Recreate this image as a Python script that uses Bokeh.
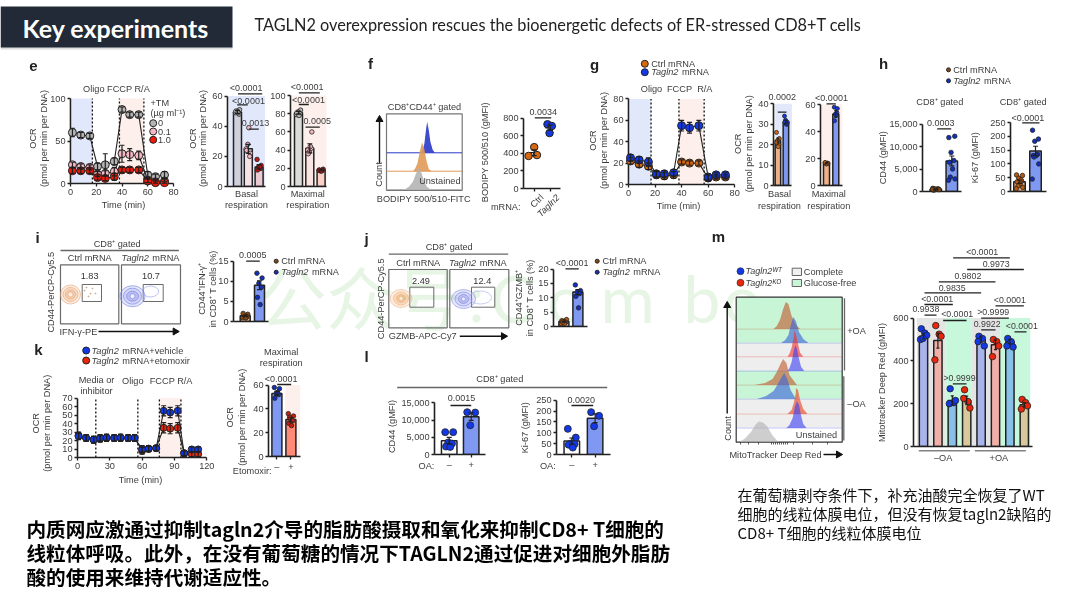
from bokeh.plotting import figure
from bokeh.embed import file_html
from bokeh.resources import INLINE
from bokeh.core.properties import value
from bokeh.models import (Column, Range1d, FixedTicker, ColumnDataSource, Whisker, TeeHead,
                          NumeralTickFormatter)

# ---------- data ----------
time12 = [1.5, 8, 15, 21, 27, 34, 40, 46, 53, 60, 66, 73]
e_ocr_0 = [60, 57, 56, 20, 22, 26, 87, 81, 81, 10, 8, 10]
e_err_0 = [5, 3, 3, 4, 13, 4, 3, 3, 3, 4, 3, 4]
e_ocr_01 = [22, 20, 19, 11, 12, 14, 35, 34, 33, 4, 2, 3]
e_err_01 = [3, 3, 3, 3, 3, 5, 10, 7, 5, 3, 2, 3]
e_ocr_10 = [15, 15, 15, 7, 6, 8, 16, 16, 16, 3, 1, 1]
e_err_10 = [3, 3, 3, 3, 3, 4, 3, 3, 3, 2, 1, 1]
e_basal = [49.5, 25, 13]
e_basal_err = [1, 3, 1.5]
e_basal_pts = [[49, 51, 50, 48, 50, 49], [25, 22, 28, 20, 24, 39], [18, 14, 13, 12, 11, 13]]
e_max = [81, 42, 18]
e_max_err = [1.5, 5, 0.8]
e_max_pts = [[79, 84, 82, 80, 81, 78], [40, 60, 38, 42, 36, 44], [18, 19, 17, 18, 18, 17]]

f_ctrl = [370, 470, 380]
f_tagln2 = [730, 710, 630]

g_ctrl = [22, 19, 17, 9, 8, 9, 21, 20, 20, 6, 7, 7]
g_ctrl_err = [3, 3, 3, 3, 3, 3, 2, 2, 2, 3, 2, 2]
g_tag = [25, 23, 21, 10, 10, 11, 55, 53, 55, 7, 9, 9]
g_tag_err = [3, 3, 4, 3, 3, 3, 5, 5, 5, 3, 2, 2]
g_basal = [22, 31]
g_basal_err = [1.2, 1]
g_basal_pts = [[26, 23, 22, 20, 21, 19], [34, 31, 32, 30, 31, 30]]
g_max = [16.5, 53]
g_max_err = [0.5, 2.5]
g_max_pts = [[17, 16.5, 16, 16.5, 17, 16], [58, 57, 53, 54, 48, 52]]

h_cd44 = [500, 6800]
h_cd44_err = [100, 1100]
h_cd44_pts = [[700, 500, 400, 600, 300, 500, 600, 400, 500],
              [12000, 12300, 8700, 6900, 6500, 5000, 3200, 2800, 2500]]
h_ki67 = [35, 147]
h_ki67_err = [6, 17]
h_ki67_pts = [[60, 58, 48, 38, 35, 28, 20, 15, 10, 42],
              [222, 190, 182, 135, 130, 130, 125, 100, 45]]

i_val = [1.4, 9]
i_err = [0.2, 1.1]
i_pts = [[1.0, 1.8, 1.5, 1.2, 2.0, 0.9], [12, 10.8, 9.5, 8.5, 6, 4.2]]

j_val = [1.7, 12]
j_err = [0.2, 0.9]
j_pts = [[1.0, 2.4, 1.8, 1.5, 2.0, 1.1, 1.6], [14.5, 12.5, 12, 11.5, 10.5, 6.5]]

time18 = [1, 8, 15, 21, 27, 34, 40, 47, 53, 60, 66, 73, 80, 86, 93, 99, 106, 112]
k_vehicle = [25, 23, 21, 23, 23.5, 23, 23.5, 23, 23, 10, 10.5, 11, 55, 53, 55, 5, 9.5, 9.5]
k_etomoxir = [26, 23, 21, 22, 23, 23, 23, 23, 23, 8, 10, 11, 35, 34, 35, 5, 4, 4]
k_err = [4, 4, 4, 4, 4, 4, 4, 4, 4, 4, 3, 3, 6, 6, 6, 3, 3, 3]
k_bar = [53, 31]
k_bar_err = [1.7, 2]
k_bar_pts = [[58, 57, 53, 52, 49, 54], [36, 34, 32, 30, 28, 26, 33]]

l_cd44 = [4000, 11000]
l_cd44_err = [1000, 1100]
l_cd44_pts = [[6500, 6500, 3500, 3200, 2300, 2200], [12300, 12200, 8500]]
l_ki67 = [62, 167]
l_ki67_err = [14, 20]
l_ki67_pts = [[118, 78, 50, 48, 45, 32], [195, 178, 130]]

m_val = [515, 495, 215, 215, 500, 475, 490, 195]
m_err = [12, 35, 22, 20, 12, 22, 10, 10]
m_pts = [[550, 530, 520, 500, 505], [565, 525, 515, 405], [270, 205, 215, 200], [265, 210, 180, 225],
         [515, 505, 470, 490], [500, 490, 470, 420], [505, 490, 465, 470], [220, 205, 190, 175]]
m_fill = ["#aab4ec", "#f0b0a8", "#88c0e8", "#d8c89c", "#aab4ec", "#f0b0a8", "#88c0e8", "#d8c89c"]

# histogram curves: fluorescence (0-100 of the box width), count height
f_hist_x = [[45, 48, 50, 52, 53.7, 56, 58, 61, 64], [35, 38, 41, 44, 47, 50, 53, 56, 60], [24, 30, 35, 39, 42.7, 46, 49, 53, 58]]
f_hist_h = [[0, 3, 9, 22, 31, 22, 11, 3, 0], [0, 3, 8, 20, 29, 22, 10, 2, 0], [0, 3, 8, 16, 21.7, 17, 10, 3, 0]]
m_hist = [
    ([35, 38, 41, 44, 46.5, 49, 52, 56, 60], [0, 3, 9, 20, 27, 25, 13, 4, 0], "#c05a30", 0),
    ([42, 46, 49, 51, 53.5, 56, 59, 63, 68], [0, 3, 8, 17, 26, 22, 11, 4, 0], "#3c64d8", 1),
    ([48, 50, 52, 54, 54.5, 56, 58, 60, 63], [0, 3, 9, 20, 26, 23, 13, 4, 0], "#f03030", 2),
    ([48, 50, 52, 54, 55.5, 57, 59, 61, 64], [0, 3, 9, 20, 26, 22, 12, 4, 0], "#3c40f0", 3),
    ([17, 27, 34, 38, 41, 44, 47, 50, 57], [0, 2, 6, 13, 20, 26, 22, 10, 0], "#c05a30", 4),
    ([19, 28, 35, 39, 42, 45, 48, 51, 56], [0, 3, 8, 15, 21, 26, 20, 9, 0], "#3c64d8", 5),
    ([48, 52, 54, 56, 56, 58, 60, 63, 67], [0, 4, 11, 21, 26, 24, 14, 5, 0], "#e84020", 6),
    ([47, 50, 53, 55, 57, 59, 61, 63, 66], [0, 3, 10, 21, 27, 23, 12, 4, 0], "#3c40f0", 7),
    ([2, 8, 14, 18, 21, 25, 29, 34, 40], [0, 4, 11, 18, 21, 20, 16, 7, 0], "#b0b0b0", 8),
]
m_row_base = [328.3, 342.3, 356, 370.3, 384.3, 398.3, 413.3, 427.3, 441.7]

FONT = "Liberation Sans"
TXT = "#3c3c3c"
DARK = "#202020"
BLUE_SH = "#e2e8fb"
PINK_SH = "#fdf0ec"
ORANGE = "#d8680f"
BLUE = "#1338e6"
RED = "#e8260c"
FS = 9.2
SOFT = "blur(0.4px)"

# ---------- page layers ----------
bg = figure(width=1064, height=592, x_range=Range1d(8, 1072), y_range=Range1d(600, 8),
            x_axis_location=None, y_axis_location=None, toolbar_location=None,
            output_backend="svg", min_border=0, outline_line_color=None, frame_align=False,
            styles={"position": "absolute", "left": "8px", "top": "8px", "filter": SOFT})
bg.grid.visible = False
fg = figure(width=1064, height=592, x_range=Range1d(8, 1072), y_range=Range1d(600, 8),
            x_axis_location=None, y_axis_location=None, toolbar_location=None,
            output_backend="svg", min_border=0, outline_line_color=None, frame_align=False,
            background_fill_color=None, border_fill_color=None,
            styles={"position": "absolute", "left": "8px", "top": "8px", "filter": SOFT})
fg.grid.visible = False
hdr = figure(width=236, height=50, x_range=Range1d(0, 236), y_range=Range1d(50, 0),
             x_axis_location=None, y_axis_location=None, toolbar_location=None,
             output_backend="svg", min_border=0, outline_line_color=None, frame_align=False,
             background_fill_color=None, border_fill_color=None,
             styles={"position": "absolute", "left": "0px", "top": "0px"})
hdr.grid.visible = False
hdr.quad(left=[0], right=[232], top=[46], bottom=[49], fill_color="#dcdcdc", line_color=None)
hdr.quad(left=[0], right=[232], top=[6], bottom=[47], fill_color="#212a36", line_color=None)
hdr.text([22], [27], text=["Key experiments"], text_font=value("Lato"), text_font_size="25px", text_color="#ffffff",
         text_baseline="middle", text_font_style="bold")
panels = [hdr]


def T(x, y, s, size=FS, color=TXT, align="center", base="middle", angle=0, style="normal", font=FONT, on=None):
    (on or bg).text([x], [y], text=[s], text_font=value(font), text_font_size=f"{size}px",
                    text_color=color, text_align=align, text_baseline=base, angle=angle, angle_units="deg",
                    text_font_style=style)


def R(x0, y0, x1, y1, fill=None, line=None, lw=1, alpha=1):
    bg.quad(left=[x0], right=[x1], top=[y0], bottom=[y1], fill_color=fill, line_color=line, line_width=lw,
            fill_alpha=alpha)


def L(x0, y0, x1, y1, color=DARK, lw=1.3, on=None):
    (on or bg).segment([x0], [y0], [x1], [y1], line_color=color, line_width=lw)


def Sig(s, cx, ty, x0, x1, by, size=9):
    T(cx, ty, s, size, on=fg)
    L(x0, by, x1, by, on=fg)


def Arrow(x0, y0, x1, y1):
    L(x0, y0, x1, y1, "#111", 1.4)
    if x0 == x1:
        bg.scatter([x1], [y1 + 2], marker="triangle", size=7, fill_color="#111", line_color="#111")
    else:
        bg.scatter([x1 - 2], [y1], marker="triangle", size=7, angle=-90, angle_units="deg", fill_color="#111", line_color="#111")


def Mixed(x, y, ital, rest, size=FS):
    T(x, y, ital, size, align="left", style="italic")
    T(x + 3.34 * size, y, rest.strip(), size, align="left")


def Two(x1, x2, cy, a, b, size=FS):
    T(x1, cy, a, size, angle=90)
    T(x2, cy, b, size, angle=90)


def panel(xl, xr, yb, yt, x0, x1, y0, y1, xticks, yticks, pad_r=4, pad_t=6, fmt=None, xlabels=None, axes=True):
    ml, mr, mt, mb = 44, 4, 4, 18
    if not axes:
        ml = mr = mt = mb = 0
        pad_r = pad_t = 0
    sx = (x1 - x0) / (xr - xl)
    sy = (y1 - y0) / (yb - yt)
    fw = round(xr - xl + pad_r)
    fh = round(yb - yt + pad_t)
    p = figure(width=fw + ml + mr, height=fh + mt + mb,
               x_range=Range1d(x0, x0 + fw * sx), y_range=Range1d(y0, y0 + fh * sy),
               toolbar_location=None, output_backend="svg", min_border_left=ml, min_border_right=mr,
               min_border_top=mt, min_border_bottom=mb, outline_line_color=None, frame_align=False,
               background_fill_color=None, border_fill_color=None,
               x_axis_location="below" if axes else None, y_axis_location="left" if axes else None,
               styles={"position": "absolute", "left": f"{round(xl - ml)}px",
                       "top": f"{round(yb - fh - mt)}px", "filter": SOFT})
    p.grid.visible = False
    if axes:
        for ax, ticks in ((p.xaxis[0], xticks), (p.yaxis[0], yticks)):
            ax.ticker = FixedTicker(ticks=ticks)
            ax.major_label_text_font = FONT
            ax.major_label_text_font_size = f"{FS}px"
            ax.major_label_text_color = TXT
            ax.major_label_standoff = 2
            ax.major_tick_in = 0
            ax.major_tick_out = 3
            ax.major_tick_line_color = DARK
            ax.major_tick_line_width = 1.3
            ax.minor_tick_line_color = None
            ax.axis_line_color = DARK
            ax.axis_line_width = 1.6
        p.xaxis[0].bounds = (x0, x1)
        p.yaxis[0].bounds = (y0, y1)
        if fmt:
            p.yaxis[0].formatter = NumeralTickFormatter(format=fmt)
        if xlabels:
            p.xaxis[0].major_label_overrides = xlabels
    panels.append(p)
    return p


def shade(p, x0, x1, y0, y1, color):
    p.quad(left=[x0], right=[x1], bottom=[y0], top=[y1], fill_color=color, line_color=None, level="underlay")


def errs(p, xs, ys, err, color=DARK, head=5):
    src = ColumnDataSource(dict(x=xs, up=[a + b for a, b in zip(ys, err)], lo=[a - b for a, b in zip(ys, err)]))
    w = Whisker(source=src, base="x", upper="up", lower="lo", dimension="height", line_color=color, line_width=1.2,
                upper_head=TeeHead(size=head, line_color=color, line_width=1.2),
                lower_head=TeeHead(size=head, line_color=color, line_width=1.2), level="overlay")
    p.add_layout(w)


def ocr(xl, xr, yb, yt, xmax, ymax, xt, yt_ticks, series, vlines, shades, msize=8):
    p = panel(xl, xr, yb, yt, 0, xmax, 0, ymax, xt, yt_ticks)
    for a, b, c in shades:
        shade(p, a, b, 0, ymax, c)
    p.segment(vlines, [0] * len(vlines), vlines, [ymax] * len(vlines), line_color="#111", line_width=1.3, line_dash="2 2")
    for t, y, e, col in series:
        errs(p, t, y, e)
        p.line(t, y, line_color="#222", line_width=1.1, level="overlay")
        p.scatter(t, y, size=msize, fill_color=col, line_color="#222", line_width=1, level="overlay")
    return p


JIT = [-0.2, 0.2, -0.05, 0.14, -0.16, 0.05, -0.1, 0.22, -0.22, 0.1]


def bars(xl, xr, yb, yt, c0, c1, bw, ymax, yticks, vals, err, pts, fills, ptcols, psize=4.5, fmt=None, sh=None, xlabels=None, jit=JIT, head=5):
    d = c1 - c0
    x0 = (xl - c0) / d
    x1 = (xr - c0) / d
    ticks = list(range(len(vals))) if xlabels else []
    p = panel(xl, xr, yb, yt, x0, x1, 0, ymax, ticks, yticks, fmt=fmt, xlabels=xlabels)
    for a, b, c in (sh or []):
        shade(p, (a - c0) / d, (b - c0) / d, 0, ymax, c)
    xs = list(range(len(vals)))
    p.vbar(x=xs, top=vals, width=bw / d, bottom=0, fill_color=fills, line_color="#222", line_width=1.5)
    errs(p, xs, vals, err, head=head)
    for i, ys in enumerate(pts):
        px = [i + jit[k % len(jit)] * 0.45 * (bw / d) / 0.7 * 2 for k in range(len(ys))]
        p.scatter(px, ys, size=psize, fill_color=ptcols[i], line_color="#222", line_width=0.8, level="overlay")
    return p


# ---------- slide furniture ----------
WM = "#e6f5e4"
T(258, 295, "公众号", 68, WM, "left", font="Noto Sans CJK SC")
T(468, 297, ":", 64, WM, "left", font="Lato")
for ch, xc in [("C", 490), ("o", 547), ("m", 600), ("b", 683), ("o", 723)]:
    T(xc, 297, ch, 66, WM, "left", font="Lato")
T(254, 24, "TAGLN2 overexpression rescues the bioenergetic defects of ER-stressed CD8+T cells", 16.3, "#222222", "left", font="Lato")

cn = "Noto Sans CJK SC"
T(26, 528, "内质网应激通过抑制tagln2介导的脂肪酸摄取和氧化来抑制CD8+ T细胞的", 19.6, "#000", "left", style="bold", font=cn)
T(26, 552, "线粒体呼吸。此外，在没有葡萄糖的情况下TAGLN2通过促进对细胞外脂肪", 19.6, "#000", "left", style="bold", font=cn)
T(26, 576, "酸的使用来维持代谢适应性。", 19.6, "#000", "left", style="bold", font=cn)
T(737, 494, "在葡萄糖剥夺条件下，补充油酸完全恢复了WT", 15, "#111", "left", font=cn)
T(737, 513, "细胞的线粒体膜电位，但没有恢复tagln2缺陷的", 15, "#111", "left", font=cn)
T(737, 532, "CD8+ T细胞的线粒体膜电位", 15, "#111", "left", font=cn)

for s, x, y in [("e", 33, 65), ("f", 370, 63), ("g", 594, 64), ("h", 883, 63), ("i", 37, 237), ("j", 366, 238),
                ("k", 38, 349), ("l", 366, 356), ("m", 718, 236)]:
    T(x, y, s, 15, "#222", style="bold")

# ---------- panel e ----------
T(116, 88, "Oligo FCCP R/A")
Two(32, 43, 138, "OCR", "(pmol per min per DNA)")
T(123, 204, "Time (min)")
T(150, 102, "+TM", align="left")
T(150, 112, "(µg ml⁻¹)", align="left")
for yy, cc, s in [(122.7, "#b4b4b4", "0"), (131, "#f6b8c4", "0.1"), (139.3, "#f01808", "1.0")]:
    bg.scatter([152.7], [yy], size=7, fill_color=cc, line_color="#222", line_width=1)
    T(157.5, yy, s, align="left")
ocr(70.3, 173.3, 182.7, 97.7, 80, 100, [0, 20, 40, 60, 80], [0, 50, 100],
    [(time12, e_ocr_0, e_err_0, "#b4b4b4"), (time12, e_ocr_01, e_err_01, "#f6b8c4"), (time12, e_ocr_10, e_err_10, "#f01808")],
    [17, 38, 57], [(1, 17, BLUE_SH), (38, 57, PINK_SH)])

Two(192.7, 202, 138, "OCR", "(pmol per min per DNA)")
bars(226.7, 264.3, 185.7, 95.3, 236.7, 247.5, 8, 60, [0, 20, 40, 60], e_basal, e_basal_err, e_basal_pts,
     ["#d0d0dc", "#f4e2e6", "#eccad4"], ["#b4b4b4", "#f6b8c4", "#c01818"], sh=[(228, 264.3, BLUE_SH)])
Sig("<0.0001", 245.7, 87.7, 237.5, 261.7, 93.3)
Sig("<0.0001", 248, 100, 236.7, 247.3, 104.3)
Sig("0.0013", 255, 122.7, 248.3, 258.3, 128.7)
T(246, 193, "Basal")
T(246, 204, "respiration")
bars(290, 326, 185.7, 94.7, 298, 309.3, 8, 100, [0, 20, 40, 60, 80, 100], e_max, e_max_err, e_max_pts,
     ["#dcdcdc", "#f8e4e2", "#fad0c8"], ["#b4b4b4", "#f6b8c4", "#c01818"], sh=[(291.7, 326, PINK_SH)])
Sig("<0.0001", 306.7, 86.7, 298.3, 319.3, 92.3)
Sig("<0.0001", 308, 99, 298.3, 308.3, 104)
Sig("0.0005", 316.7, 120.7, 305, 319.3, 126.7)
T(307.3, 193, "Maximal")
T(307.3, 204, "respiration")

# ---------- panel f ----------
T(424, 106, "CD8⁺CD44⁺ gated")
R(386, 113.3, 461.7, 190, "#ffffff", "#777777", 1.2)
fp = panel(386, 461.7, 190, 113.3, 0, 100, 0, 76.7, [], [], axes=False)
f_base = [37.7, 19.3, 1]
f_cols = ["#2a3ac8", "#e09a58", "#b4b4b4"]
for i in range(3):
    fp.varea(f_hist_x[i], [f_base[i]] * 9, [f_base[i] + h for h in f_hist_h[i]], fill_color=f_cols[i], fill_alpha=0.9)
    fp.segment([0], [f_base[i]], [100], [f_base[i]], line_color=f_cols[i], line_width=1)
T(460, 180, "Unstained", align="right", on=fg)
Arrow(379, 163, 379, 117)
T(378, 174, "Count", angle=90)
T(423.3, 198, "BODIPY 500/510-FITC")
T(484, 151.7, "BODIPY 500/510 (gMFI)", angle=90)
d = 16
fs = panel(523.3, 560, 187.7, 117.3, (523.3 - 534) / d, (560 - 534) / d, 0, 800, [0, 1], [0, 200, 400, 600, 800],
           xlabels={0: " ", 1: " "})
f_means = [sum(f_ctrl) / 3, sum(f_tagln2) / 3]
fs.segment([-0.3, 0.7], f_means, [0.3, 1.3], f_means, line_color=DARK, line_width=1.3)
errs(fs, [0, 1], f_means, [32, 30])
fs.scatter([-0.35, 0.0, 0.17], f_ctrl, size=7.5, fill_color=ORANGE, line_color="#222", level="overlay")
fs.scatter([0.83, 1.1, 0.96], f_tagln2, size=7.5, fill_color=BLUE, line_color="#222", level="overlay")
Sig("0.0034", 542.7, 111.7, 534.3, 550.7, 117.3)
T(520, 206.7, "mRNA:", align="right")
T(538, 192, "Ctrl", align="right", base="top", angle=45)
T(554, 192, "Tagln2", align="right", base="top", angle=45, style="italic")

# ---------- panel g ----------
bg.scatter([644.3], [63.3], size=7, fill_color=ORANGE, line_color="#222")
bg.scatter([644.3], [71.7], size=7, fill_color=BLUE, line_color="#222")
T(650.7, 63.3, "Ctrl mRNA", align="left")
Mixed(650.7, 71.7, "Tagln2", " mRNA")
T(651, 88.3, "Oligo")
T(679, 88.3, "FCCP")
T(704.3, 88.3, "R/A")
Two(592, 603, 140, "OCR", "(pmol per min per DNA)")
T(678, 205.7, "Time (min)")
ocr(628.3, 734.5, 184.3, 98.7, 80, 80, [0, 20, 40, 60, 80], [0, 20, 40, 60, 80],
    [(time12, g_ctrl, g_ctrl_err, ORANGE), (time12, g_tag, g_tag_err, BLUE)],
    [17, 38, 57], [(1, 17, BLUE_SH), (38, 57, PINK_SH)])
Two(737.3, 748.3, 143.3, "OCR", "(pmol per min per DNA)")
bars(773.3, 791.7, 185, 103.3, 777.7, 785.7, 5.5, 40, [0, 10, 20, 30, 40], g_basal, g_basal_err, g_basal_pts,
     ["#eeb088", "#7f98f2"], [ORANGE, BLUE], psize=4, sh=[(775, 791.7, BLUE_SH)], head=3)
Sig("0.0002", 781.7, 96.7, 777.3, 786, 111.7)
T(779, 193, "Basal")
T(779, 205, "respiration")
bars(820, 841.7, 185, 104, 826, 835.3, 6, 60, [0, 20, 40, 60], g_max, g_max_err, g_max_pts,
     ["#eeb088", "#7f98f2"], [ORANGE, BLUE], psize=4, sh=[(821.5, 841.7, PINK_SH)], head=3)
Sig("<0.0001", 831, 97.7, 826, 835.3, 103.3)
T(828.3, 193, "Maximal")
T(828.3, 205, "respiration")

# ---------- panel h ----------
bg.scatter([948], [69.3], size=4, fill_color="#8a4a14", line_color="#222")
bg.scatter([948], [80.3], size=4, fill_color="#1030c0", line_color="#222")
T(952.7, 69.3, "Ctrl mRNA", align="left")
Mixed(952.7, 80.3, "Tagln2", " mRNA")
T(939.3, 101.7, "CD8⁺ gated")
T(1022.7, 101.7, "CD8⁺ gated")
T(882.7, 157.3, "CD44 (gMFI)", angle=90)
T(974.3, 157.3, "Ki-67 (gMFI)", angle=90)
bars(921.7, 960.7, 190.7, 123.3, 935, 951, 11.5, 15000, [0, 5000, 10000, 15000], h_cd44, h_cd44_err, h_cd44_pts,
     ["#eeb088", "#7f98f2"], ["#8a4a14", "#1030c0"], psize=4.5, fmt="0,0")
Sig("0.0003", 940.3, 122, 936.7, 950.7, 128.3)
bars(1010, 1046, 190.7, 121.7, 1019, 1035, 11.5, 250, [0, 50, 100, 150, 200, 250], h_ki67, h_ki67_err, h_ki67_pts,
     ["#eeb088", "#7f98f2"], ["#b85a10", "#1030c0"], psize=4.5)
Sig("<0.0001", 1027.3, 117.3, 1021.7, 1039, 122.3)


# ---------- flow panels i, j ----------
def flow(x1, x2, ytop, ybot, gates, nums, ny, names_y, centres):
    for k, (a, b) in enumerate([x1, x2]):
        R(a, ytop, b, ybot, None, "#6a6a6a", 1.2)
        R(gates[k][0], gates[k][1], gates[k][2], gates[k][3], None, "#6a6a6a", 1)
        T((a + b) / 2 + (3 if nums[k] in ("2.49", "12.4") else 0), ny, nums[k], FS, "#333")
    T(centres[0], names_y, "Ctrl mRNA")
    Mixed(centres[1] - 3.14 * FS, names_y, "Tagln2", " mRNA")


T(116.7, 243.3, "CD8⁺ gated")
L(60, 250, 178.3, 250, "#666", 1.3)
flow((60, 118.3), (121, 180), 264.3, 323.3, [(81.7, 284, 101, 301), (142.7, 284, 162.7, 301)], ["1.83", "10.7"], 275.7, 257.7, (89.3, 150))
for w, h, col, al in [(20, 19, "#f0b888", 0.25), (15, 14, "#f0b888", 0.3), (10, 9, "#f0a878", 0.3), (5, 5, "#f8f0e8", 1)]:
    bg.ellipse([70], [294], width=w, height=h, fill_color=col, fill_alpha=al, line_color="#e8a070", line_width=0.6)
for w, h, col, al in [(25, 21, "#a8aef0", 0.3), (18, 16, "#a8aef0", 0.3), (12, 10, "#8088e8", 0.3), (5, 5, "#f0f0ff", 1)]:
    bg.ellipse([132], [295.7], width=w, height=h, fill_color=col, fill_alpha=al, line_color="#7078e0", line_width=0.6)
bg.ellipse([150], [291], width=16, height=11, fill_color=None, line_color="#a0a4ec", line_width=0.7)
bg.scatter([84, 88, 92, 95, 90, 86], [290, 296, 288, 293, 293, 287], size=1.2, line_color="#eac0a0")
T(50.7, 291.7, "CD44-PerCP-Cy5.5", angle=90)
T(59, 331, "IFN-γ-PE", align="left")
Arrow(98, 331, 176.7, 331)
Two(201.7, 212.7, 288.3, "CD44⁺IFN-γ⁺", "in CD8⁺ T cells (%)")
bars(233.3, 268.3, 320.7, 260.3, 245, 259.3, 10, 15, [0, 5, 10, 15], i_val, i_err, i_pts,
     ["#eeb088", "#7f98f2"], ["#8a4a14", "#1030c0"], psize=4.5)
Sig("0.0005", 252.3, 254, 245.7, 259.3, 260.7)
bg.scatter([275.7], [260.7], size=4, fill_color="#8a4a14", line_color="#222")
bg.scatter([275.7], [271.7], size=4, fill_color="#1030c0", line_color="#222")
T(280.7, 260.7, "Ctrl mRNA", align="left")
Mixed(280.7, 271.7, "Tagln2", " mRNA")

T(448.7, 246, "CD8⁺ gated")
L(388.3, 253.7, 507.7, 253.7, "#666", 1.3)
flow((388.3, 446.7), (449.3, 508.3), 269, 327.3, [(409.3, 286.7, 433.3, 306.7), (471, 286.7, 494.3, 306.7)], ["2.49", "12.4"], 280, 262.7, (417.7, 477.3))
for w, h, col, al in [(22, 18, "#f4c090", 0.3), (15, 13, "#f0b070", 0.3), (9, 8, "#e8a868", 0.4), (4, 4, "#f4f0d8", 1)]:
    bg.ellipse([400.5], [298], width=w, height=h, fill_color=col, fill_alpha=al, line_color="#e8a878", line_width=0.5)
for w, h, col, al in [(24, 19, "#a8aef0", 0.3), (17, 14, "#a8aef0", 0.3), (10, 9, "#8088e8", 0.3), (4, 4, "#f0f0ff", 1)]:
    bg.ellipse([463], [298.5], width=w, height=h, fill_color=col, fill_alpha=al, line_color="#7078e0", line_width=0.5)
bg.ellipse([480], [297], width=22, height=13, fill_color=None, line_color="#b0b4ee", line_width=0.7)
T(380, 298.3, "CD44-PerCP-Cy5.5", angle=90)
T(388.3, 335.7, "GZMB-APC-Cy7", align="left")
Arrow(459.3, 335.7, 505, 335.7)
Two(518.3, 529.3, 297.3, "CD44⁺GZMB⁺", "in CD8⁺ T cells (%)")
bars(553.3, 587.3, 325.7, 268.3, 563.7, 577.7, 10, 20, [0, 5, 10, 15, 20], j_val, j_err, j_pts,
     ["#eeb088", "#7f98f2"], ["#b85a10", "#1030c0"], psize=4.5)
Sig("<0.0001", 571.7, 262.3, 565, 578.3, 268.3)
bg.scatter([596.7], [260.7], size=4, fill_color="#8a4a14", line_color="#222")
bg.scatter([596.7], [271.7], size=4, fill_color="#1030c0", line_color="#222")
T(602, 260.7, "Ctrl mRNA", align="left")
Mixed(602, 271.7, "Tagln2", " mRNA")

# ---------- panel k ----------
bg.scatter([85.7], [350], size=7, fill_color=BLUE, line_color="#222")
bg.scatter([85.7], [360], size=7, fill_color=RED, line_color="#222")
Mixed(91, 350, "Tagln2", " mRNA+vehicle")
Mixed(91, 360, "Tagln2", " mRNA+etomoxir")
T(96, 379, "Media or")
T(96, 390, "inhibitor")
T(132.3, 380, "Oligo")
T(170.7, 380, "FCCP R/A")
Two(35.7, 46, 422.7, "OCR", "(pmol per min per DNA)")
T(140, 479, "Time (min)")
ocr(76.7, 206, 456.7, 397.3, 120, 70, [0, 30, 60, 90, 120], [0, 10, 20, 30, 40, 50, 60, 70],
    [(time18, k_etomoxir, k_err, RED), (time18, k_vehicle, k_err, BLUE)],
    [17, 56, 76, 96], [(76, 96, PINK_SH)], msize=7)
Two(229.3, 241.7, 416.7, "OCR", "(pmol per min per DNA)")
bars(268.3, 300, 455.7, 384.3, 276.7, 290.7, 10, 60, [0, 20, 40, 60], k_bar, k_bar_err, k_bar_pts,
     ["#7f98f2", "#ff8a78"], ["#1030c0", "#c82010"], psize=4.5, sh=[(285, 300, PINK_SH)],
     xlabels={0: "–", 1: "+"})
Sig("<0.0001", 280.7, 378.3, 276.7, 290.7, 384)
T(280.7, 351.7, "Maximal")
T(280.7, 362.3, "respiration")
T(232.3, 470, "Etomoxir:", align="left")

# ---------- panel l ----------
T(499.3, 378.3, "CD8⁺ gated")
L(396.7, 387, 606.7, 387, "#666", 1.3)
T(391.7, 426, "CD44 (gMFI)", angle=90)
T(524, 427.3, "Ki-67 (gMFI)", angle=90)
bars(434, 485, 454.3, 402.7, 448.7, 470.7, 15.5, 15000, [0, 5000, 10000, 15000], l_cd44, l_cd44_err, l_cd44_pts,
     ["#ffffff", "#7f98f2"], [BLUE, BLUE], psize=7, fmt="0,0", xlabels={0: "–", 1: "+"})
Sig("0.0015", 461, 397.7, 450, 470.7, 405)
T(426, 465, "OA:")
bars(555.7, 610, 454.3, 400, 571, 594.3, 15.5, 250, [0, 50, 100, 150, 200, 250], l_ki67, l_ki67_err, l_ki67_pts,
     ["#ffffff", "#7f98f2"], [BLUE, BLUE], psize=7, xlabels={0: "–", 1: "+"})
Sig("0.0020", 580.7, 399, 571, 592.7, 405)
T(547.3, 465, "OA:")

# ---------- panel m: histograms ----------
bg.scatter([740], [270.7], size=7, fill_color=BLUE, line_color="#222", line_width=0.6)
bg.scatter([740], [282.3], size=7, fill_color=RED, line_color="#222", line_width=0.6)
T(745, 270.7, "Tagln2ᵂᵀ", 9, align="left", style="italic")
T(745, 282.3, "Tagln2ᴷᴼ", 9, align="left", style="italic")
R(791.7, 267.7, 801, 275, "#f0f0f0", "#666")
R(791.7, 279, 801, 286, "#c8f5d5", "#666")
T(803.3, 271.4, "Complete", align="left")
T(803.3, 282.6, "Glucose-free", align="left")
for (a, b, c) in [(296.7, 342.3, "#c8f5d5"), (342.3, 370.3, "#eeeeee"), (370.3, 398.3, "#c8f5d5"), (398.3, 427.3, "#eeeeee")]:
    R(735.7, a, 841.7, b, c)
R(735.7, 296.7, 841.7, 441.7, None, "#333", 1.2)
for tk in [740, 748, 758, 771, 773, 775, 777, 779, 781, 783, 785, 787, 793, 812, 827]:
    L(tk, 441.7, tk, 444, "#333", 0.8)
mp = panel(735.7, 841.7, 441.7, 296.7, 0, 100, 0, 145, [], [], axes=False)
for xs, hs, col, row in m_hist:
    base = 441.7 - m_row_base[row]
    mp.varea(xs, [base] * len(xs), [base + h for h in hs], fill_color=col, fill_alpha=0.62)
    mp.segment([0], [base], [100], [base], line_color=col, line_width=0.8, line_alpha=0.35)
T(836.7, 434, "Unstained", align="right", on=fg)
L(844, 297.7, 844, 370, "#666", 1.3)
L(843.3, 375.7, 843.3, 440, "#666", 1.3)
T(856, 330.7, "+OA")
T(856, 403, "–OA")
Arrow(726.7, 413, 726.7, 303)
T(727.3, 428, "Count", angle=90)
T(775, 454, "MitoTracker Deep Red")
Arrow(823, 454, 840, 454)

# ---------- panel m: bars ----------
T(881.7, 382, "Mitotracker Deep Red (gMFI)", angle=90)
c = [923.3, 937.7]
bars(913.3, 1032.3, 445.7, 317.3, c[0], c[1], 8.3, 600, [0, 200, 400, 600], m_val, m_err, m_pts, m_fill,
     [BLUE, RED, BLUE, RED, BLUE, RED, BLUE, RED], psize=6.5,
     sh=[(916.7, 945, "#e4e4e4"), (945, 971.7, "#c8f8dc"), (971.7, 1000, "#e4e4e4"), (1000, 1030, "#c8f8dc")],
     jit=[-0.2, 0.12, 0.3, -0.28, -0.05], head=3)
ZX = 880
ZY = 225
for s, cx, ty, a, b, by in [("<0.0001", 305, 78, 218, 388, 97), ("0.9973", 347, 115, 260, 430, 132),
                            ("0.9802", 262, 150, 175, 345, 169), ("0.9835", 215, 186, 132, 302, 202),
                            ("<0.0001", 170, 220, 132, 217, 237), ("0.9938", 136, 250, 132, 168, 269),
                            ("<0.0001", 230, 265, 188, 258, 285), ("<0.0001", 388, 223, 345, 430, 241),
                            (">0.9999", 338, 260, 302, 385, 278), ("0.9922", 320, 296, 302, 345, 313),
                            ("<0.0001", 424, 300, 402, 438, 319), (">0.9999", 237, 456, 217, 258, 475)]:
    Sig(s, ZX + cx / 3, ZY + ty / 3, ZX + a / 3, ZX + b / 3, ZY + by / 3, 8.8)
L(ZX + 115 / 3, ZY + 676 / 3, ZX + 268 / 3, ZY + 676 / 3, "#444", 1)
L(ZX + 283 / 3, ZY + 676 / 3, ZX + 436 / 3, ZY + 676 / 3, "#444", 1)
T(ZX + 188 / 3, ZY + 698 / 3, "–OA")
T(ZX + 355 / 3, ZY + 698 / 3, "+OA")

root = Column(children=[bg] + panels + [fg], width=1064, height=592, styles={"position": "relative"})
open("out.html", "w").write(file_html(root, INLINE))
